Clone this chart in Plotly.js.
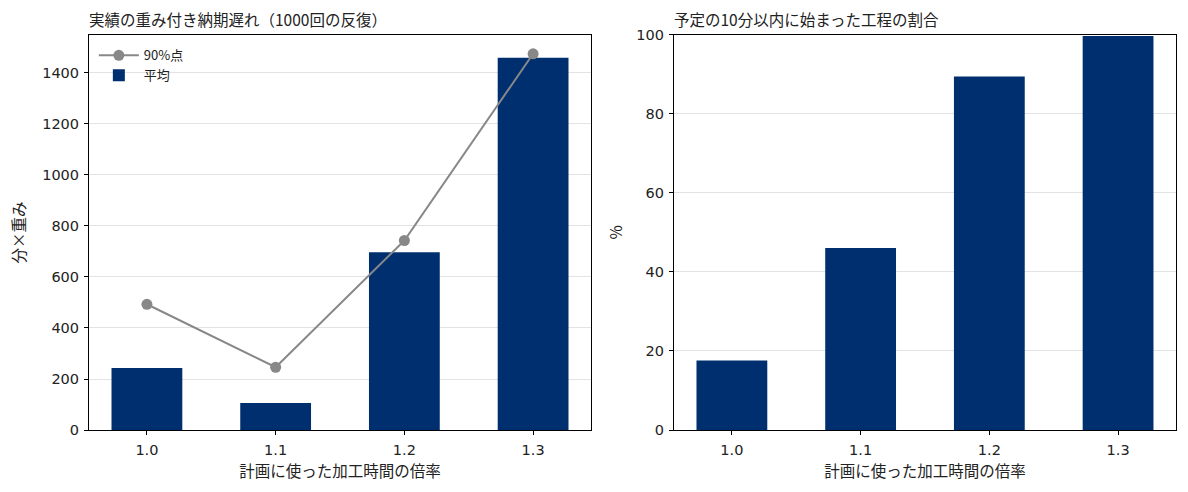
<!DOCTYPE html>
<html>
<head>
<meta charset="utf-8">
<script src="https://cdn.plot.ly/plotly-3.0.1.min.js"></script>
<style>
  html, body { margin: 0; padding: 0; background: #fff; }
  #chart { width: 1188px; height: 492px; }
</style>
</head>
<body>
<div id="chart"></div>
<script>
// 計画に使った加工時間の倍率
const factors = ['1.0', '1.1', '1.2', '1.3'];
// 実績の重み付き納期遅れ（分×重み）
const meanDelay = [243, 106, 697, 1460];
const p90Delay = [493, 246, 743, 1475];
// 予定の10分以内に始まった工程の割合（%）
const onTimeShare = [17.6, 46.1, 89.5, 99.7];

const navy = '#002f6f';
const grey = '#888888';
const font = '"Noto Sans CJK JP", "Noto Sans", sans-serif';
const tickFont = { family: '"DejaVu Sans", "Noto Sans CJK JP", sans-serif', size: 14.5, color: '#222' };

const traces = [
  {
    x: factors, y: meanDelay, type: 'bar', name: '平均',
    marker: { color: navy }, width: 0.55,
    xaxis: 'x', yaxis: 'y', legendrank: 2
  },
  {
    x: factors, y: p90Delay, type: 'scatter', mode: 'lines+markers', name: '90%点',
    line: { color: grey, width: 2 }, marker: { color: grey, size: 11 },
    xaxis: 'x', yaxis: 'y', legendrank: 1
  },
  {
    x: factors, y: onTimeShare, type: 'bar', name: '割合',
    marker: { color: navy }, width: 0.55,
    xaxis: 'x2', yaxis: 'y2', showlegend: false
  }
];

const xBase = {
  type: 'category', range: [-0.45, 3.45],
  showline: true, mirror: true, linecolor: '#000', linewidth: 1,
  ticks: 'outside', ticklen: 4, tickcolor: '#000', ticklabelstandoff: 3,
  showgrid: false, zeroline: false,
  tickfont: tickFont,
  title: { text: '計画に使った加工時間の倍率', font: { size: 15.5, color: '#222' }, standoff: 8 }
};
const yBase = {
  showline: true, mirror: true, linecolor: '#000', linewidth: 1,
  ticks: 'outside', ticklen: 4, tickcolor: '#000', ticklabelstandoff: 2,
  showgrid: true, gridcolor: '#e3e3e3', gridwidth: 1, zeroline: false,
  tickfont: tickFont
};

const layout = {
  width: 1188, height: 492,
  margin: { l: 0, r: 0, t: 0, b: 0 },
  paper_bgcolor: '#fff', plot_bgcolor: '#fff',
  font: { family: font, color: '#222' },
  xaxis: Object.assign({}, xBase, { domain: [0.0749, 0.4975], anchor: 'y' }),
  yaxis: Object.assign({}, yBase, { domain: [0.126, 0.929], anchor: 'x', range: [0, 1549], tickvals: [0, 200, 400, 600, 800, 1000, 1200, 1400] }),
  xaxis2: Object.assign({}, xBase, { domain: [0.5673, 0.9899], anchor: 'y2' }),
  yaxis2: Object.assign({}, yBase, { domain: [0.126, 0.929], anchor: 'x2', range: [0, 100], tickvals: [0, 20, 40, 60, 80, 100] }),
  showlegend: true,
  legend: {
    x: 0.079, y: 0.918, xanchor: 'left', yanchor: 'top',
    bgcolor: 'rgba(0,0,0,0)', font: { size: 13, color: '#222' },
    tracegroupgap: 2, itemwidth: 40
  },
  annotations: [
    { text: '実績の重み付き納期遅れ（1000回の反復）', xref: 'paper', yref: 'paper',
      x: 0.0729, y: 0.935, xanchor: 'left', yanchor: 'bottom', showarrow: false,
      font: { size: 15.5, color: '#222' } },
    { text: '予定の10分以内に始まった工程の割合', xref: 'paper', yref: 'paper',
      x: 0.5653, y: 0.935, xanchor: 'left', yanchor: 'bottom', showarrow: false,
      font: { size: 15.5, color: '#222' } },
    { text: '分×重み', xref: 'paper', yref: 'paper', x: 18 / 1188, y: 0.5275,
      xanchor: 'center', yanchor: 'middle', textangle: -90, showarrow: false,
      font: { size: 15.5, color: '#222' } },
    { text: '%', xref: 'paper', yref: 'paper', x: 615 / 1188, y: 0.5275,
      xanchor: 'center', yanchor: 'middle', textangle: -90, showarrow: false,
      font: { size: 15.5, color: '#222' } }
  ]
};

Plotly.newPlot('chart', traces, layout, { displayModeBar: false, staticPlot: true });
</script>
</body>
</html>
